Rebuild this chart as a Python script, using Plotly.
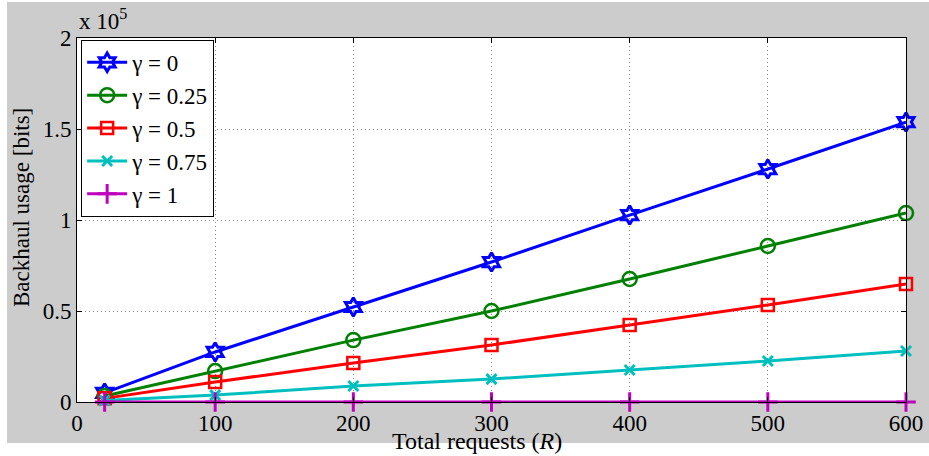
import plotly.graph_objects as go

requests = [20, 100, 200, 300, 400, 500, 600]
gamma_labels = ["γ = 0", "γ = 0.25", "γ = 0.5", "γ = 0.75", "γ = 1"]
usage_g0 = [5000, 27500, 52200, 76900, 102700, 128000, 153800]
usage_g025 = [3300, 17000, 34000, 50000, 67600, 85700, 103800]
usage_g05 = [2000, 11000, 21400, 31300, 42300, 53300, 64800]
usage_g075 = [800, 3800, 8800, 12600, 17600, 22500, 28000]
usage_g1 = [0, 0, 0, 0, 0, 0, 0]
ytick_vals = [0, 50000, 100000, 150000, 200000]
ytick_text = ["0", "0.5", "1", "1.5", "2"]
xtick_vals = [0, 100, 200, 300, 400, 500, 600]

series = [usage_g0, usage_g025, usage_g05, usage_g075, usage_g1]
colors = ["#0000FF", "#008000", "#FF0000", "#00BFBF", "#BF00BF"]
symbols = ["hexagram-open", "circle-open", "square-open", "x-thin-open", "cross-thin-open"]
sizes = [14, 14, 12, 10, 14]
mlw = [3, 2.5, 2.5, 3, 3]

fig = go.Figure()
for name, ys, c, s, sz, lw in zip(gamma_labels, series, colors, symbols, sizes, mlw):
    fig.add_trace(go.Scatter(
        x=requests, y=ys, name=name, mode="lines+markers",
        line=dict(color=c, width=3),
        marker=dict(symbol=s, size=sz, color=c, line=dict(color=c, width=lw)),
        cliponaxis=False,
    ))

W, H = 929, 456
ml, mr, mt, mb = 77, 23, 38, 54
pw, ph = W - ml - mr, H - mt - mb

def px2paper_x(px):
    return (px - ml) / pw

def px2paper_y(py):
    return (H - mb - py) / ph

ff = "Liberation Serif, Times New Roman, DejaVu Serif, serif"
fs = 23

# white borders around the grey figure background
fig.add_shape(type="rect", xref="paper", yref="paper",
              x0=px2paper_x(0), x1=px2paper_x(7), y0=px2paper_y(456), y1=px2paper_y(0),
              fillcolor="white", line=dict(width=0), layer="below")
fig.add_shape(type="rect", xref="paper", yref="paper",
              x0=px2paper_x(0), x1=px2paper_x(929), y0=px2paper_y(456), y1=px2paper_y(443),
              fillcolor="white", line=dict(width=0), layer="below")
fig.add_shape(type="rect", xref="paper", yref="paper",
              x0=px2paper_x(0), x1=px2paper_x(929), y0=px2paper_y(2), y1=px2paper_y(0),
              fillcolor="white", line=dict(width=0), layer="below")

fig.update_layout(
    width=W, height=H,
    margin=dict(l=ml, r=mr, t=mt, b=mb, autoexpand=False),
    paper_bgcolor="#CCCCCC", plot_bgcolor="white",
    font=dict(family=ff, size=fs, color="black"),
    showlegend=True,
    legend=dict(x=0.005, y=0.995, xanchor="left", yanchor="top",
                bgcolor="white", bordercolor="black", borderwidth=1,
                font=dict(family=ff, size=fs), itemwidth=40,
                tracegroupgap=0),
    xaxis=dict(range=[0, 600], tickvals=xtick_vals, showgrid=True,
               gridcolor="#888888", griddash="1px,3px", gridwidth=1,
               showline=True, linecolor="black", linewidth=1, mirror="ticks",
               ticks="inside", ticklen=5, tickcolor="black", automargin=False,
               tickfont=dict(family=ff, size=fs), zeroline=False),
    yaxis=dict(range=[0, 200000], tickvals=ytick_vals, ticktext=ytick_text, showgrid=True,
               gridcolor="#888888", griddash="1px,3px", gridwidth=1,
               showline=True, linecolor="black", linewidth=1, mirror="ticks",
               ticks="inside", ticklen=5, tickcolor="black", automargin=False,
               tickfont=dict(family=ff, size=fs), zeroline=False),
)

fig.add_annotation(xref="paper", yref="paper", x=px2paper_x(477), y=px2paper_y(441),
                   xanchor="center", yanchor="middle", showarrow=False,
                   text="Total requests (<i>R</i>)", font=dict(family=ff, size=24))
fig.add_annotation(xref="paper", yref="paper", x=px2paper_x(21), y=px2paper_y(208),
                   xanchor="center", yanchor="middle", showarrow=False, textangle=-90,
                   text="Backhaul usage [bits]", font=dict(family=ff, size=fs))
fig.add_annotation(xref="paper", yref="paper", x=px2paper_x(77), y=px2paper_y(36),
                   xanchor="left", yanchor="bottom", showarrow=False,
                   text="x 10<sup>5</sup>", font=dict(family=ff, size=fs))

fig.write_html("out.html", config={"displayModeBar": False},
               post_script="document.body.style.margin='0';document.body.style.overflow='hidden';"
                           "document.documentElement.style.overflow='hidden';")
